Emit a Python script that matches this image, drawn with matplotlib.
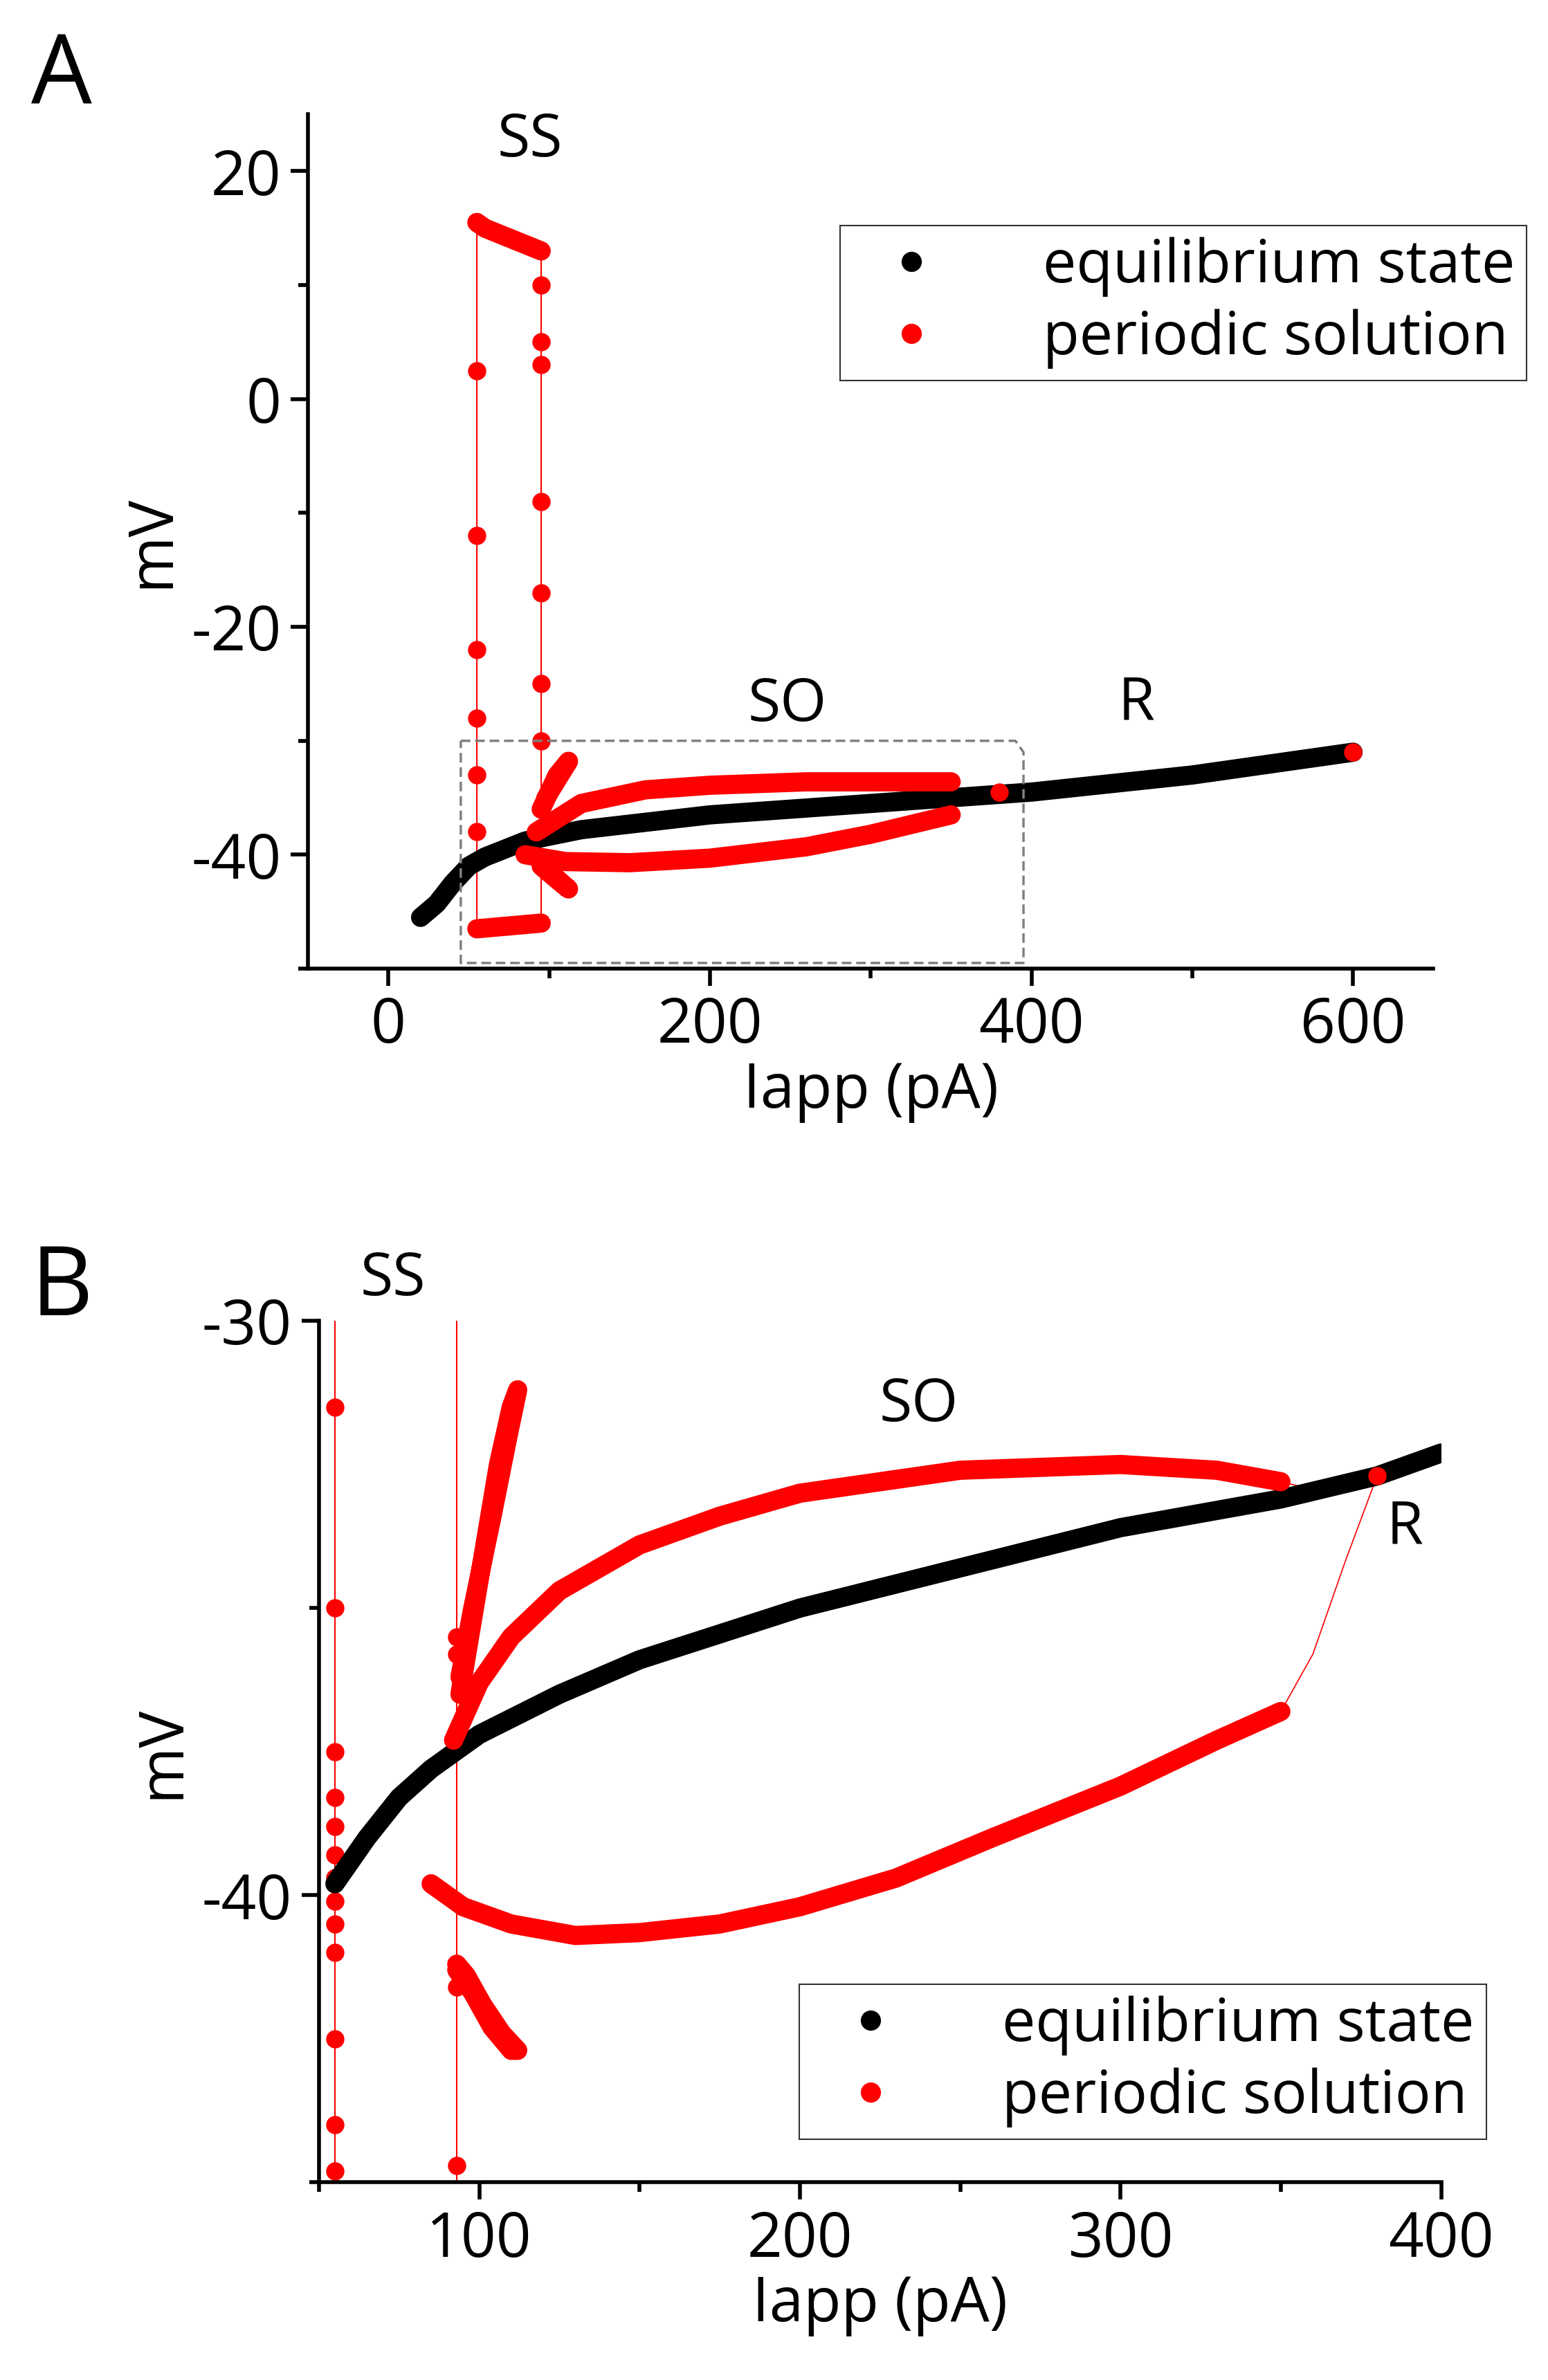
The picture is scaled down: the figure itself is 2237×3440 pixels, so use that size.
import matplotlib.pyplot as plt
from matplotlib.lines import Line2D
from matplotlib.ticker import MultipleLocator

plt.rcParams["font.family"] = "Open Sans"
plt.rcParams["axes.unicode_minus"] = False

RED = "#ff0000"

# ---- panel A data (Iapp pA, mV) ----
a_eq_x = [20, 30, 40, 50, 60, 85, 120, 200, 300, 400, 500, 600]
a_eq_y = [-45.5, -44.3, -42.5, -41.0, -40.2, -38.8, -37.8, -36.5, -35.5, -34.5, -33.0, -31.0]
a_ss_x = [55, 55, 60, 95, 95, 95, 55, 55]
a_ss_y = [-46.5, 15.5, 15, 13, -46, -46, -46.5, -46.5]
a_ss_dots_x = [55, 55, 55, 55, 55, 55, 95, 95, 95, 95, 95, 95, 95]
a_ss_dots_y = [2.5, -12, -22, -28, -33, -38, 10, 5, 3, -9, -17, -25, -30]
a_up_x = [92, 120, 160, 200, 260, 320, 350]
a_up_y = [-38.0, -35.5, -34.3, -33.9, -33.6, -33.6, -33.6]
a_lo_x = [85, 110, 150, 200, 260, 300, 350]
a_lo_y = [-40.0, -40.6, -40.7, -40.3, -39.3, -38.2, -36.5]
a_sp1_x = [95, 105, 112, 98]
a_sp1_y = [-36.0, -33.0, -31.8, -35.0]
a_sp2_x = [95, 105, 112, 100]
a_sp2_y = [-41.0, -42.2, -43.0, -41.5]
a_pts_x = [380, 600]
a_pts_y = [-34.5, -31]

# ---- panel B data ----
b_eq_x = [55, 65, 75, 85, 100, 125, 150, 200, 250, 300, 350, 380, 400]
b_eq_y = [-39.8, -39.0, -38.3, -37.8, -37.2, -36.5, -35.9, -35.0, -34.3, -33.6, -33.1, -32.7, -32.3]
b_up_x = [92, 100, 110, 125, 150, 175, 200, 250, 300, 330, 350]
b_up_y = [-37.3, -36.3, -35.5, -34.7, -33.9, -33.4, -33.0, -32.6, -32.5, -32.6, -32.8]
b_lo_x = [85, 95, 110, 130, 150, 175, 200, 230, 260, 300, 330, 350]
b_lo_y = [-39.8, -40.2, -40.5, -40.7, -40.65, -40.5, -40.2, -39.7, -39.0, -38.1, -37.3, -36.8]
b_tail_x = [350, 365, 380, 370, 360, 350]
b_tail_y = [-32.8, -33.0, -32.7, -34.2, -35.8, -36.8]
b_loop1_x = [94, 100, 106, 110, 112, 109, 104, 98, 94]
b_loop1_y = [-36.5, -34.5, -32.5, -31.5, -31.2, -32.0, -33.4, -35.0, -36.2]
b_loop2_x = [93, 98, 104, 110, 112, 107, 101, 96, 93]
b_loop2_y = [-41.3, -41.7, -42.3, -42.7, -42.7, -42.4, -41.9, -41.4, -41.2]
b_v1_y = [-31.5, -35.0, -37.5, -38.3, -38.8, -39.3, -39.7, -40.1, -40.5, -41.0,
          -42.5, -44.0, -44.8]
b_v2_y = [-35.5, -35.8, -41.3, -41.6, -44.7]


def legend(ax, loc, anchor):
    h = [Line2D([], [], ls="", marker="o", ms=20, color="k", label="equilibrium state"),
         Line2D([], [], ls="", marker="o", ms=20, color=RED, label="periodic solution")]
    leg = ax.legend(handles=h, loc=loc, bbox_to_anchor=anchor, fontsize=62,
                    fancybox=False, edgecolor="black", handletextpad=1.2,
                    borderpad=0.2, labelspacing=0.2, borderaxespad=0)
    leg.get_frame().set_linewidth(1.5)


def style(ax):
    for s in ("top", "right"):
        ax.spines[s].set_visible(False)
    for s in ("left", "bottom"):
        ax.spines[s].set_linewidth(4)
    ax.tick_params(which="major", length=18, width=4, labelsize=64, pad=10)
    ax.tick_params(which="minor", length=10, width=4)


fig = plt.figure(figsize=(22.37, 34.4), dpi=100)
lw = 20

# ---------------- A ----------------
ax = fig.add_axes([0.199, 0.593, 0.727, 0.359])
ax.plot(a_ss_x, a_ss_y, color=RED, lw=1.5)
ax.plot(a_ss_x[:2], a_ss_y[:2], ls="", marker="o", ms=18, color=RED)
ax.plot(a_ss_x[1:4], a_ss_y[1:4], color=RED, lw=lw, solid_capstyle="round")
ax.plot([55, 95], [-46.5, -46], color=RED, lw=lw, solid_capstyle="round")
ax.plot(a_ss_dots_x, a_ss_dots_y, ls="", marker="o", ms=18, color=RED)
ax.plot(a_eq_x, a_eq_y, color="k", lw=lw, solid_capstyle="round")
for xs, ys in ((a_up_x, a_up_y), (a_lo_x, a_lo_y), (a_sp1_x, a_sp1_y), (a_sp2_x, a_sp2_y)):
    ax.plot(xs, ys, color=RED, lw=lw, solid_capstyle="round", solid_joinstyle="round")
ax.plot(a_pts_x, a_pts_y, ls="", marker="o", ms=18, color=RED)
ax.plot([45, 390, 395, 395, 45, 45], [-30, -30, -31, -49.5, -49.5, -30],
        ls=(0, (4, 2)), color="gray", lw=2.5)
ax.set_xlim(-50, 650)
ax.set_ylim(-50, 25)
ax.xaxis.set_major_locator(MultipleLocator(200))
ax.xaxis.set_minor_locator(MultipleLocator(100))
ax.yaxis.set_major_locator(MultipleLocator(20))
ax.yaxis.set_minor_locator(MultipleLocator(10))
style(ax)
ax.set_xlabel("Iapp (pA)", fontsize=64, labelpad=2)
ax.set_ylabel("mV", fontsize=64, labelpad=8)
ax.text(88, 20, "SS", fontsize=62, ha="center", va="bottom")
ax.text(248, -29.5, "SO", fontsize=62, ha="center", va="bottom")
ax.text(465, -29.5, "R", fontsize=62, ha="center", va="bottom")
legend(ax, "upper right", (1.083, 0.87))
fig.text(0.02, 0.967, "A", fontsize=100, va="center")

# ---------------- B ----------------
bx = fig.add_axes([0.206, 0.083, 0.725, 0.362])
bx.axvline(55, color=RED, lw=1.5)
bx.axvline(93, color=RED, lw=1.5)
bx.plot([55] * len(b_v1_y), b_v1_y, ls="", marker="o", ms=18, color=RED)
bx.plot([93] * len(b_v2_y), b_v2_y, ls="", marker="o", ms=18, color=RED)
bx.plot(b_tail_x, b_tail_y, color=RED, lw=1.2)
bx.plot(b_eq_x, b_eq_y, color="k", lw=lw, solid_capstyle="round")
for xs, ys in ((b_up_x, b_up_y), (b_lo_x, b_lo_y), (b_loop1_x, b_loop1_y),
               (b_loop2_x, b_loop2_y)):
    bx.plot(xs, ys, color=RED, lw=lw, solid_capstyle="round", solid_joinstyle="round")
bx.plot([380], [-32.7], ls="", marker="o", ms=18, color=RED)
bx.set_xlim(50, 400)
bx.set_ylim(-45, -30)
bx.xaxis.set_major_locator(MultipleLocator(100))
bx.xaxis.set_minor_locator(MultipleLocator(50))
bx.yaxis.set_major_locator(MultipleLocator(10))
bx.yaxis.set_minor_locator(MultipleLocator(5))
style(bx)
bx.set_xlabel("Iapp (pA)", fontsize=64, labelpad=2)
bx.set_ylabel("mV", fontsize=64, labelpad=8)
bx.text(73, -29.8, "SS", fontsize=62, ha="center", va="bottom")
bx.text(237, -32.0, "SO", fontsize=62, ha="center", va="bottom")
bx.text(383, -33.1, "R", fontsize=62, ha="left", va="top")
legend(bx, "lower right", (1.04, 0.05))
fig.text(0.02, 0.458, "B", fontsize=100, va="center")

fig.savefig("out.png", dpi=100, facecolor="white")
